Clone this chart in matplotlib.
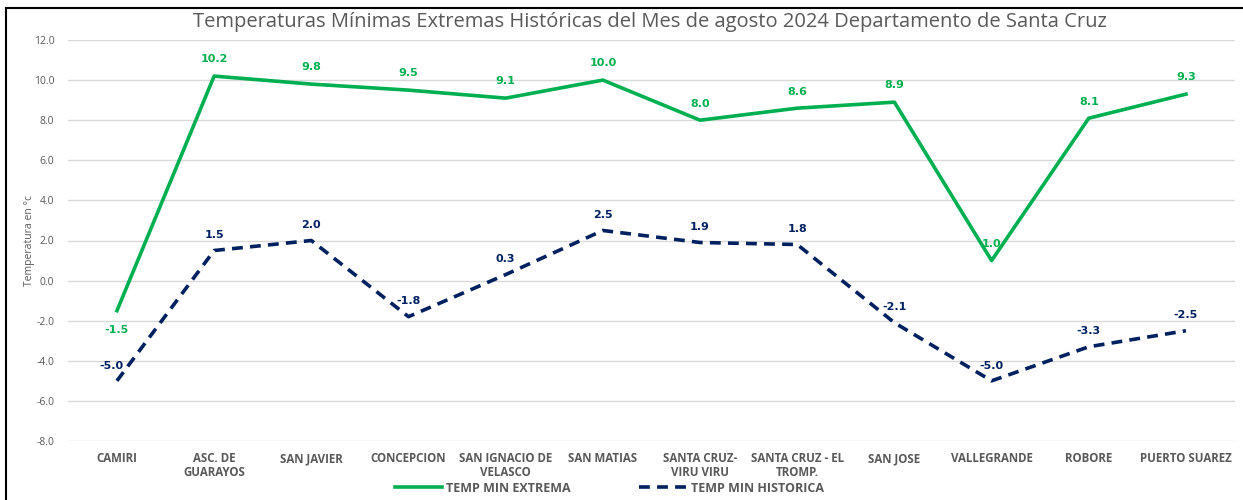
import matplotlib
matplotlib.use("Agg")
import matplotlib.pyplot as plt
from matplotlib.lines import Line2D

estaciones = ["CAMIRI", "ASC. DE\nGUARAYOS", "SAN JAVIER", "CONCEPCION",
              "SAN IGNACIO DE\nVELASCO", "SAN MATIAS", "SANTA CRUZ-\nVIRU VIRU",
              "SANTA CRUZ - EL\nTROMP.", "SAN JOSE", "VALLEGRANDE", "ROBORE",
              "PUERTO SUAREZ"]
min_extrema = [-1.5, 10.2, 9.8, 9.5, 9.1, 10.0, 8.0, 8.6, 8.9, 1.0, 8.1, 9.3]
min_historica = [-5.0, 1.5, 2.0, -1.8, 0.3, 2.5, 1.9, 1.8, -2.1, -5.0, -3.3, -2.5]
yticks = [-8.0, -6.0, -4.0, -2.0, 0.0, 2.0, 4.0, 6.0, 8.0, 10.0, 12.0]

verde = "#00B050"
azul = "#002060"
gris = "#595959"

plt.rcParams['font.family'] = ['Open Sans', 'DejaVu Sans']

fig = plt.figure(figsize=(12.43, 5), dpi=100)
ax = fig.add_axes([0.055, 0.118, 0.9382, 0.802])

x = list(range(len(estaciones)))
ax.plot(x, min_extrema, color=verde, lw=2.6, label="TEMP MIN EXTREMA", zorder=3)
ax.plot(x, min_historica, color=azul, lw=2.6, ls=(0, (3, 2)), label="TEMP MIN HISTORICA", zorder=3)

for i, v in enumerate(min_extrema):
    dy = -14 if i == 0 else 12
    ax.annotate(f"{v:.1f}", (i, v), xytext=(0, dy), textcoords="offset points",
                ha="center", va="center", fontsize=8, fontweight="bold", color=verde,
                family="DejaVu Sans", zorder=4)
for i, v in enumerate(min_historica):
    dx = -4 if i == 0 else 0
    ax.annotate(f"{v:.1f}", (i, v), xytext=(dx, 11), textcoords="offset points",
                ha="center", va="center", fontsize=8, fontweight="bold", color=azul,
                family="DejaVu Sans", zorder=4)

ax.set_xlim(-0.5, len(estaciones) - 0.5)
ax.set_ylim(-8, 12)
ax.set_yticks(yticks)
ax.set_yticklabels([f"{t:.1f}" for t in yticks], fontsize=7.5, color=gris)
ax.set_xticks(x)
ax.set_xticklabels(estaciones, fontsize=8.3, fontweight="bold", color=gris, linespacing=1.1)
ax.tick_params(length=0, pad=8)
ax.tick_params(axis="y", pad=10)
ax.grid(axis="y", color="#D9D9D9", lw=1)
ax.set_axisbelow(True)
for s in ax.spines.values():
    s.set_visible(False)

ax.set_ylabel("Temperatura en °c", fontsize=7.5, color=gris, labelpad=-1)
fig.text(0.523, 0.955, "Temperaturas Mínimas Extremas Históricas del Mes de agosto 2024 Departamento de Santa Cruz",
         ha="center", va="center", fontsize=14.5, color=gris)

fig.legend(loc="center", bbox_to_anchor=(0.49, 0.024), ncol=2, frameon=False,
           prop={"weight": "bold", "size": 9}, columnspacing=5.5, handlelength=3.8,
           handletextpad=0.3, labelcolor=gris)

fig.add_artist(Line2D([0.005, 1.0], [0.984, 0.984], color="black", lw=1.5, transform=fig.transFigure))
fig.add_artist(Line2D([0.005, 0.005], [0.0, 0.984], color="black", lw=1.5, transform=fig.transFigure))

fig.savefig("out.png", dpi=100)
